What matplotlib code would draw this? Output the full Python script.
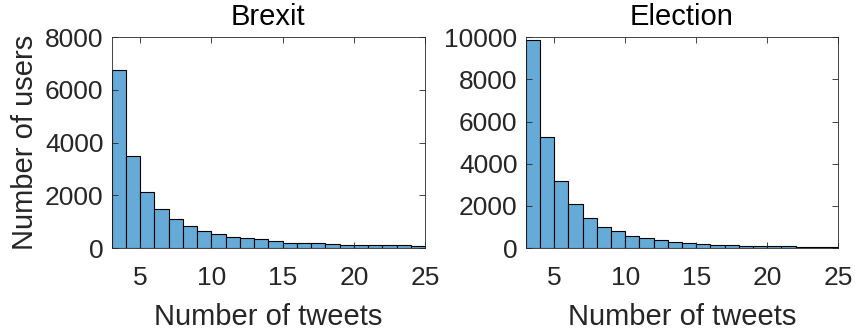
import matplotlib.pyplot as plt
import numpy as np

plt.rcParams['font.family'] = ['Liberation Sans', 'DejaVu Sans']

# histogram bins: one per tweet count from 3 to 24
bin_edges = np.arange(3, 26)
brexit_counts = [6760, 3480, 2140, 1480, 1115, 835, 660, 530, 405, 380, 355,
                 280, 205, 190, 175, 150, 128, 128, 112, 100, 100, 76]
election_counts = [9840, 5260, 3175, 2070, 1420, 995, 790, 570, 475, 365, 300,
                   238, 190, 158, 142, 110, 95, 80, 80, 48, 48, 32]

titles = ['Brexit', 'Election']
series = [brexit_counts, election_counts]
ylims = [8000, 10000]
yticks = [np.arange(0, 8001, 2000), np.arange(0, 10001, 2000)]

face = (0.4, 0.668, 0.845)
ink = '#262626'

fig = plt.figure(figsize=(8.55, 3.32), dpi=100)
boxes = [[0.1307, 0.2527, 0.3664, 0.6355], [0.6149, 0.2527, 0.3655, 0.6355]]

for i, (box, counts) in enumerate(zip(boxes, series)):
    ax = fig.add_axes(box)
    ax.bar(bin_edges[:-1], counts, width=1, align='edge', color=face,
           edgecolor='black', linewidth=0.8)
    ax.set_xlim(3, 25)
    ax.set_ylim(0, ylims[i])
    ax.set_xticks([5, 10, 15, 20, 25])
    ax.set_yticks(yticks[i])
    ax.tick_params(direction='in', top=True, right=True, labelsize=19,
                   colors=ink, length=4, width=0.6, pad=6)
    ax.tick_params(axis='x', pad=13)
    for s in ax.spines.values():
        s.set_color(ink)
        s.set_linewidth(0.6)
    ax.set_title(titles[i], fontsize=21, color='black', pad=9)
    ax.set_xlabel('Number of tweets', fontsize=21, color=ink, labelpad=9)
    if i == 0:
        ax.set_ylabel('Number of users', fontsize=21, color=ink, labelpad=4)

fig.savefig('out.png', dpi=100)
